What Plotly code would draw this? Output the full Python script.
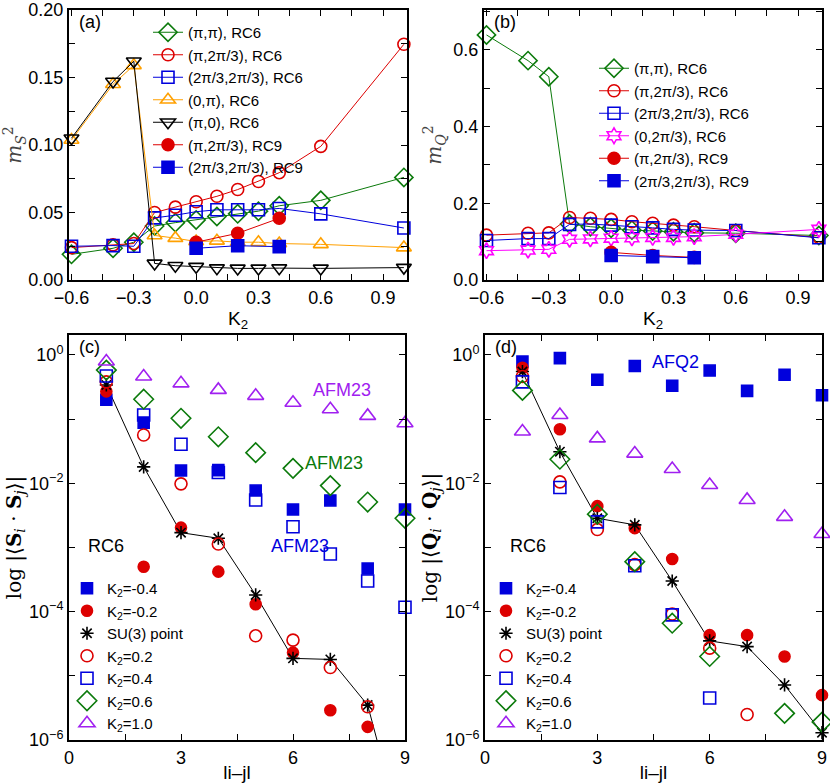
import math
import plotly.graph_objects as go

# ---- panel (a)/(b): order parameters vs K2 ----
k2 = [-0.6, -0.4, -0.3, -0.2, -0.1, 0.0, 0.1, 0.2, 0.3, 0.4, 0.6, 1.0]
k2_rc9 = [0.0, 0.2, 0.4]

ms_pipi_rc6 = [0.019, 0.0235, 0.028, 0.040, 0.0425, 0.0445, 0.047, 0.049, 0.051, 0.055, 0.059, 0.076]
ms_pi2pi3_rc6 = [0.024, 0.026, 0.027, 0.050, 0.054, 0.058, 0.062, 0.067, 0.073, 0.0795, 0.099, 0.1746]
ms_2pi3_rc6 = [0.025, 0.0255, 0.025, 0.046, 0.048, 0.0506, 0.052, 0.052, 0.052, 0.053, 0.049, 0.0385]
ms_0pi_rc6 = [0.1037, 0.145, 0.159, 0.033, 0.031, 0.0285, 0.029, 0.028, 0.028, 0.027, 0.0264, 0.024]
ms_pi0_rc6 = [0.105, 0.147, 0.162, 0.0123, 0.0106, 0.0099, 0.0088, 0.0086, 0.0086, 0.0088, 0.0086, 0.0092]
ms_pi2pi3_rc9 = [0.028, 0.0346, 0.0457]
ms_2pi3_rc9 = [0.0235, 0.0254, 0.0247]

mq_pipi_rc6 = [0.639, 0.572, 0.530, 0.146, 0.139, 0.135, 0.130, 0.128, 0.126, 0.123, 0.122, 0.116]
mq_pi2pi3_rc6 = [0.117, 0.122, 0.123, 0.163, 0.161, 0.158, 0.152, 0.148, 0.143, 0.139, 0.129, 0.111]
mq_2pi3_rc6 = [0.103, 0.108, 0.108, 0.145, 0.146, 0.143, 0.139, 0.136, 0.132, 0.130, 0.129, 0.110]
mq_02pi3_rc6 = [0.0765, 0.078, 0.080, 0.106, 0.107, 0.109, 0.110, 0.111, 0.111, 0.113, 0.119, 0.132]
mq_pi2pi3_rc9 = [0.072, 0.064, 0.059]
mq_2pi3_rc9 = [0.064, 0.061, 0.058]

# ---- panel (c)/(d): correlations vs |i-j| ----
dist = [1, 2, 3, 4, 5, 6, 7, 8, 9]
k2_labels = ['K<sub>2</sub>=-0.4', 'K<sub>2</sub>=-0.2', 'SU(3) point', 'K<sub>2</sub>=0.2',
             'K<sub>2</sub>=0.4', 'K<sub>2</sub>=0.6', 'K<sub>2</sub>=1.0']

ss_m04 = [0.20, 0.088, 0.0158, 0.016, 0.0077, 0.0039, 0.0054, 4.7e-4, 0.0039]
ss_m02 = [0.27, 5.0e-4, 0.00204, 4.2e-4, 1.3e-4, 2.3e-5, 2.9e-6, 1.6e-6, None]
ss_su3 = [0.34, 0.018, 0.0017, 0.00139, 1.82e-4, 1.87e-5, 1.8e-5, 3.5e-6, 2.3e-8]
ss_p02 = [0.38, 0.0566, 0.0098, 0.00113, 4.2e-5, 3.6e-5, 1.35e-5, 3.3e-6, None]
ss_p04 = [0.47, 0.116, 0.0405, 0.0147, 0.0055, 0.0021, 7.9e-4, 3.0e-4, 1.17e-4]
ss_p06 = [0.58, 0.204, 0.103, 0.053, 0.030, 0.0171, 0.0092, 0.0051, 0.00285]
ss_p10 = [0.79, 0.46, 0.36, 0.285, 0.23, 0.18, 0.142, 0.112, 0.086]

qq_m04 = [0.79, 0.89, 0.41, 0.67, 0.33, 0.57, 0.275, 0.49, 0.235]
qq_m02 = [0.63, 0.0695, 0.0044, 0.0020, 6.6e-4, 4.3e-5, 4.3e-5, 2.0e-5, 5.0e-6]
qq_su3 = [0.55, 0.031, 0.00285, 0.00225, 3.0e-4, 3.5e-5, 2.85e-5, 7.2e-6, 1.3e-6]
qq_p02 = [0.46, 0.0105, 0.0019, 5.4e-4, 9.2e-5, 2.7e-5, 2.5e-6, None, None]
qq_p04 = [0.38, 0.0086, 0.0025, 5.2e-4, 8.9e-5, 4.5e-6, None, None, None]
qq_p06 = [0.28, 0.0237, 0.0033, 6.0e-4, 6.6e-5, 2.0e-5, None, 2.6e-6, 1.9e-6]
qq_p10 = [0.064, 0.116, 0.050, 0.029, 0.0167, 0.0094, 0.0055, 0.0030, 0.00162]

GREEN = '#0b7a0b'
RED = '#dd0000'
BLUE = '#0000dd'
ORANGE = '#ffa000'
PURPLE = '#a020f0'
MAGENTA = '#ff00ff'

fig = go.Figure()


def line_trace(x, y, name, color, symbol, size, xa, ya, legend, lcolor=None):
    return go.Scatter(
        x=x, y=y, name=name, mode='lines+markers', xaxis=xa, yaxis=ya, legend=legend,
        line=dict(color=lcolor or color, width=1),
        marker=dict(symbol=symbol, size=size, color=color, line=dict(color=color, width=1.6)),
        cliponaxis=False)


# panel (a)
fig.add_trace(line_trace(k2, ms_pipi_rc6, '(π,π), RC6', GREEN, 'diamond-open', 14, 'x', 'y', 'legend'))
fig.add_trace(line_trace(k2, ms_pi2pi3_rc6, '(π,2π/3), RC6', RED, 'circle-open', 12, 'x', 'y', 'legend'))
fig.add_trace(line_trace(k2, ms_2pi3_rc6, '(2π/3,2π/3), RC6', BLUE, 'square-open', 12, 'x', 'y', 'legend'))
fig.add_trace(line_trace(k2, ms_0pi_rc6, '(0,π), RC6', ORANGE, 'triangle-up-open', 13, 'x', 'y', 'legend'))
fig.add_trace(line_trace(k2, ms_pi0_rc6, '(π,0), RC6', 'black', 'triangle-down-open', 13, 'x', 'y', 'legend'))
fig.add_trace(line_trace(k2_rc9, ms_pi2pi3_rc9, '(π,2π/3), RC9', RED, 'circle', 12, 'x', 'y', 'legend'))
fig.add_trace(line_trace(k2_rc9, ms_2pi3_rc9, '(2π/3,2π/3), RC9', BLUE, 'square', 12, 'x', 'y', 'legend'))

# panel (b)
fig.add_trace(line_trace(k2, mq_pipi_rc6, '(π,π), RC6', GREEN, 'diamond-open', 14, 'x2', 'y2', 'legend2'))
fig.add_trace(line_trace(k2, mq_pi2pi3_rc6, '(π,2π/3), RC6', RED, 'circle-open', 12, 'x2', 'y2', 'legend2'))
fig.add_trace(line_trace(k2, mq_2pi3_rc6, '(2π/3,2π/3), RC6', BLUE, 'square-open', 12, 'x2', 'y2', 'legend2'))
fig.add_trace(line_trace(k2, mq_02pi3_rc6, '(0,2π/3), RC6', MAGENTA, 'hexagram-open', 12, 'x2', 'y2', 'legend2'))
fig.add_trace(line_trace(k2_rc9, mq_pi2pi3_rc9, '(π,2π/3), RC9', RED, 'circle', 12, 'x2', 'y2', 'legend2'))
fig.add_trace(line_trace(k2_rc9, mq_2pi3_rc9, '(2π/3,2π/3), RC9', BLUE, 'square', 12, 'x2', 'y2', 'legend2'))

# panels (c) and (d)
styles = [
    (BLUE, 'square', 11),
    (RED, 'circle', 11),
    ('black', 'asterisk-open', 11),
    (RED, 'circle-open', 12),
    (BLUE, 'square-open', 12),
    (GREEN, 'diamond-open', 15),
    (PURPLE, 'triangle-up-open', 14),
]
panels = [
    ('x3', 'y3', 'legend3', [ss_m04, ss_m02, ss_su3, ss_p02, ss_p04, ss_p06, ss_p10]),
    ('x4', 'y4', 'legend4', [qq_m04, qq_m02, qq_su3, qq_p02, qq_p04, qq_p06, qq_p10]),
]
for xa, ya, lg, series in panels:
    # SU(3) connecting line
    fig.add_trace(go.Scatter(x=dist, y=series[2], mode='lines', xaxis=xa, yaxis=ya,
                             line=dict(color='black', width=1), showlegend=False, hoverinfo='skip'))
    for (color, symbol, size), vals, label in zip(styles, series, k2_labels):
        fig.add_trace(go.Scatter(
            x=dist, y=vals, name=label, mode='markers', xaxis=xa, yaxis=ya, legend=lg,
            marker=dict(symbol=symbol, size=size, color=color, line=dict(color=color, width=1.6)),
            cliponaxis=(label == 'SU(3) point' and xa == 'x3')))

W, H = 830, 783


def dom_x(a, b):
    return [a / W, b / W]


def dom_y(top, bottom):
    return [1 - bottom / H, 1 - top / H]


axis_common = dict(
    showline=True, linewidth=2, linecolor='black', mirror='ticks',
    ticks='inside', ticklen=6, tickwidth=1.3, tickcolor='black',
    showgrid=False, zeroline=False, automargin=False,
    tickfont=dict(size=18, color='black'),
)
minor_common = dict(ticks='inside', ticklen=6, tickwidth=1.3, tickcolor='black', showgrid=False)

title_font = dict(size=19, color='black')
serif_font = dict(family='DejaVu Serif, serif', size=20, color='#444444')
corr_font = dict(family='DejaVu Serif, serif', size=20, color='black')

k2_axis = dict(axis_common, range=[-0.612, 1.015], tick0=0, dtick=0.3, tickformat='.1f',
               minor=dict(minor_common, dtick=0.15), title=dict(text='K<sub>2</sub>', font=title_font, standoff=2))
dist_axis = dict(axis_common, range=[0, 9], tick0=0, dtick=3,
                 minor=dict(minor_common, dtick=1.5), title=dict(text='li–jl', font=title_font, standoff=0))
log_axis = dict(axis_common, type='log', range=[-6, 0.31],
                tickvals=[1e-6, 1e-4, 1e-2, 1],
                ticktext=['10<sup>−6</sup>', '10<sup>−4</sup>', '10<sup>−2</sup>', '10<sup>0</sup>'],
                minor=dict(minor_common, tickvals=[1e-5, 1e-3, 1e-1]))

legend_common = dict(xanchor='left', yanchor='top', bgcolor='rgba(0,0,0,0)', font=dict(size=15), tracegroupgap=0)

fig.update_layout(
    width=W, height=H,
    margin=dict(l=0, r=0, t=0, b=0, autoexpand=False),
    paper_bgcolor='white', plot_bgcolor='white',
    font=dict(family='Liberation Sans, Arial, sans-serif', size=17, color='black'),
    xaxis=dict(k2_axis, domain=dom_x(69, 407), anchor='y'),
    yaxis=dict(axis_common, domain=dom_y(10, 280), anchor='x', range=[0, 0.2], dtick=0.05, tickformat='.2f',
               minor=dict(minor_common, dtick=0.025),
               title=dict(text='<i>m</i><sub><i>S</i></sub><sup>2</sup>', font=serif_font, standoff=6)),
    xaxis2=dict(k2_axis, domain=dom_x(484, 822), anchor='y2'),
    yaxis2=dict(axis_common, domain=dom_y(10, 280), anchor='x2', range=[0, 0.704], dtick=0.2, tickformat='.1f',
                minor=dict(minor_common, dtick=0.1),
                title=dict(text='<i>m</i><sub><i>Q</i></sub><sup>2</sup>', font=serif_font, standoff=6)),
    xaxis3=dict(dist_axis, domain=dom_x(69, 405), anchor='y3'),
    yaxis3=dict(log_axis, domain=dom_y(335, 740), anchor='x3',
                title=dict(text='log |⟨<b>S</b><sub><i>i</i></sub> · <b>S</b><sub><i>j</i></sub>⟩|',
                           font=corr_font, standoff=2)),
    xaxis4=dict(dist_axis, domain=dom_x(485, 822), anchor='y4'),
    yaxis4=dict(log_axis, domain=dom_y(335, 740), anchor='x4',
                title=dict(text='log |⟨<b>Q</b><sub><i>i</i></sub> · <b>Q</b><sub><i>j</i></sub>⟩|',
                           font=corr_font, standoff=2)),
    legend=dict(legend_common, x=148 / W, y=1 - 16 / H),
    legend2=dict(legend_common, x=594 / W, y=1 - 52 / H),
    legend3=dict(legend_common, x=67 / W, y=1 - 572 / H),
    legend4=dict(legend_common, x=486 / W, y=1 - 572 / H),
)

# panel labels
for xr, yr, t in [('x domain', 'y domain', '(a)'), ('x2 domain', 'y2 domain', '(b)'),
                  ('x3 domain', 'y3 domain', '(c)'), ('x4 domain', 'y4 domain', '(d)')]:
    fig.add_annotation(xref=xr, yref=yr, x=0.025, y=1.0, text=t, showarrow=False,
                       font=dict(size=18, color='black'), xanchor='left', yanchor='top')

labels_c = [(7.3, 0.28, 'AFM23', PURPLE), (7.1, 0.0205, 'AFM23', GREEN), (6.2, 0.00107, 'AFM23', BLUE),
            (1.0, 0.00105, 'RC6', 'black')]
for x, y, t, c in labels_c:
    fig.add_annotation(xref='x3', yref='y3', x=x, y=math.log10(y), text=t, showarrow=False,
                       font=dict(size=18, color=c))
labels_d = [(5.1, 0.78, 'AFQ2', BLUE), (1.15, 0.00105, 'RC6', 'black')]
for x, y, t, c in labels_d:
    fig.add_annotation(xref='x4', yref='y4', x=x, y=math.log10(y), text=t, showarrow=False,
                       font=dict(size=18, color=c))

fig.write_html("out.html", config={'displayModeBar': False},
               post_script="document.body.style.margin = '0';")
